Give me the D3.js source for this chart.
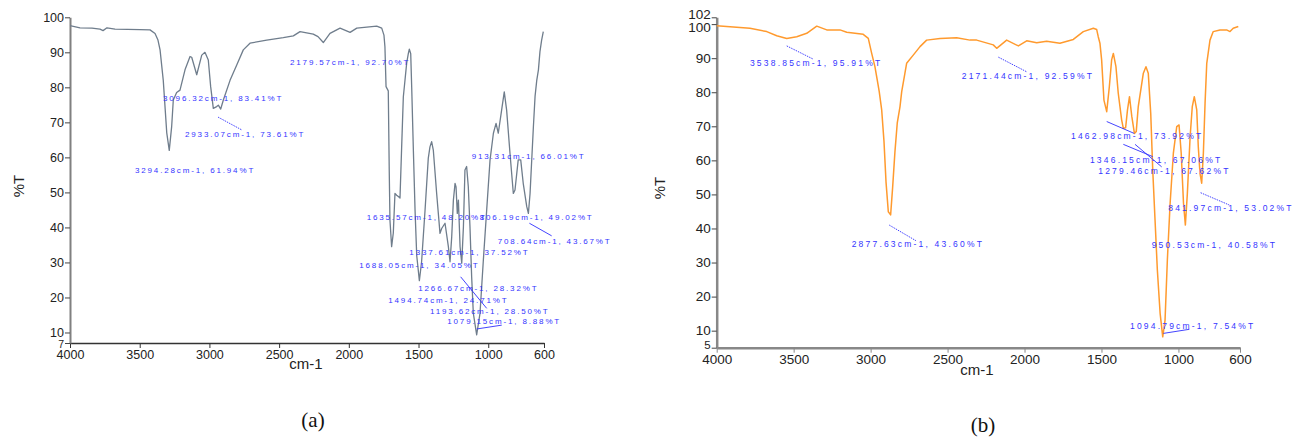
<!DOCTYPE html>
<html><head><meta charset="utf-8">
<script src="https://cdn.jsdelivr.net/npm/d3@7"></script>
<style>
html,body{margin:0;padding:0;background:#fff;}
svg{display:block;font-family:"Liberation Sans",Arial,sans-serif;}
</style></head>
<body><svg id="c" width="1293" height="437"></svg>
<script>
// ---------- data: panel (a) spectrum [wavenumber, %T] ----------
const specA = [
[4000,97.6],[3928,97.0],[3842,96.9],[3785,96.6],[3763,96.2],[3735,97.0],[3677,96.6],[3498,96.5],
[3426,96.4],[3390,95.4],[3369,93.5],[3354,90.7],[3331,82],[3306,67],[3288,62.0],[3271,68.7],
[3259,76.4],[3235,78.5],[3211,79.2],[3175,85],[3139,88.8],[3127,88.6],[3091,83.6],[3055,89.2],
[3032,90.0],[3008,87.8],[2991,80.2],[2972,74.0],[2948,74.5],[2936,74.9],[2919,73.8],[2900,76.4],
[2852,82],[2804,86.4],[2757,90.7],[2709,92.6],[2589,93.5],[2470,94.2],[2398,94.7],[2350,95.9],
[2255,95.2],[2221,94.5],[2183,92.8],[2135,95.4],[2063,96.9],[1991,95.7],[1943,96.9],[1800,97.5],
[1764,96.9],[1748,94.9],[1741,91.6],[1733,80.2],[1717,79.0],[1710,56],[1705,42.1],[1693,34.5],
[1681,38.4],[1669,49.7],[1657,49.2],[1645,48.8],[1633,48.4],[1621,63],[1609,77.3],[1597,82.1],
[1585,86.9],[1573,89.7],[1566,90.9],[1556,89.6],[1549,80],[1537,62],[1525,45],[1513,32],
[1494,24.8],[1478,30.2],[1454,44.5],[1430,59.8],[1418,63],[1406,64.5],[1394,62.1],[1370,49.7],
[1346,38.3],[1334,39.7],[1310,41.2],[1286,34.5],[1274,30.2],[1262,37.3],[1250,47.8],[1238,52.6],
[1231,51.6],[1222,44],[1214,47.8],[1202,34.5],[1190,29.8],[1178,40.2],[1167,56.4],[1155,57.4],
[1143,51.6],[1131,40.2],[1119,26],[1107,15.5],[1083,9.3],[1059,15.5],[1035,30.7],[1011,45],
[987,59.3],[963,66.9],[944,69.7],[928,66.9],[904,73.5],[885,78.7],[868,73.5],[844,61.2],
[820,49.7],[808,50.7],[785,59.3],[767,59.3],[749,52.6],[724,46],[712,44],[700,49.7],
[688,59.3],[676,68.8],[664,77.5],[652,82],[640,85],[629,90.2],[617,93.5],[605,95.9]
];
// ---------- data: panel (b) spectrum ----------
const specB = [
[4000,99.5],[3784,98.8],[3675,97.8],[3610,96.6],[3545,95.8],[3480,96.3],[3415,97.3],[3350,99.4],
[3285,98.3],[3199,98.3],[3155,97.6],[3048,97.0],[3015,95.8],[2993,91.4],[2972,87.5],[2957,83.6],
[2944,80.2],[2928,74.8],[2913,65.5],[2900,53.7],[2885,44.9],[2870,44.0],[2857,52],[2842,62.5],
[2827,70.9],[2809,75.8],[2798,80.2],[2777,85.6],[2766,88.5],[2723,90.9],[2679,93.4],[2636,95.3],
[2549,95.8],[2441,96.0],[2354,95.3],[2311,95.3],[2203,93.9],[2181,92.9],[2116,95.3],[2040,93.6],
[1986,95.1],[1921,94.5],[1856,95.0],[1770,94.4],[1683,95.5],[1618,97.8],[1553,98.8],[1531,98.4],
[1521,96.3],[1510,94.4],[1499,89.5],[1484,77.7],[1466,74.3],[1449,81.6],[1434,89.5],[1423,91.4],
[1406,87.5],[1391,79.7],[1369,71.9],[1358,69.4],[1343,69.6],[1331,74.8],[1318,78.7],[1303,72.9],
[1286,67.9],[1274,68.5],[1261,75.8],[1228,85.6],[1211,87.5],[1196,85.6],[1180,73.8],[1167,57.2],
[1152,42.5],[1137,27.8],[1119,15.1],[1102,8.2],[1087,13.1],[1072,30.7],[1054,47.4],[1033,62.1],
[1011,69.9],[996,70.4],[982,62.1],[967,47.4],[955,41],[942,50.3],[924,67],[910,75.8],
[897,78.7],[881,74.8],[871,64],[860,56.2],[849,53.3],[838,62.1],[827,76.8],[816,88.5],
[795,95.3],[774,97.8],[730,98.3],[687,98.3],[665,97.8],[644,98.8],[611,99.3]
];
// ---------- tick labels ----------
const xTicks = [4000,3500,3000,2500,2000,1500,1000,600];
const yTicksA = [7,10,20,30,40,50,60,70,80,90,100];
const yTicksB = [5,10,20,30,40,50,60,70,80,90,100,102];
// ---------- peak annotations: text, label anchor [w,%T] ----------
const labelsA = [
["3096.32cm-1, 83.41%T",3333,76.8],["2933.07cm-1, 73.61%T",3175,66.7],["3294.28cm-1, 61.94%T",3534,56.4],
["2179.57cm-1, 92.70%T",2422,87.2],["913.31cm-1, 66.01%T",1119,60.2],["1635.57cm-1, 48.20%T",1872,42.9],
["806.19cm-1, 49.02%T",1061,42.9],["708.64cm-1, 43.67%T",932,36.2],["1337.61cm-1, 37.52%T",1566,32.8],
["1688.05cm-1, 34.05%T",1925,29.3],["1266.67cm-1, 28.32%T",1502,22.6],["1494.74cm-1, 24.71%T",1717,19.3],
["1193.62cm-1, 28.50%T",1418,16.1],["1079.15cm-1, 8.88%T",1294,13.3]
];
const leadersA = [[2938,71.5,2766,67.8,1],[705,41.2,545,37.6,0],[1198,25.9,1011,16.9,0],[1083,11,903,12.1,0]];
const labelsB = [
["3538.85cm-1, 95.91%T",3784,88.7],["2171.44cm-1, 92.59%T",2408,84.9],["2877.63cm-1, 43.60%T",3123,35.4],
["1462.98cm-1, 73.92%T",1698,67.2],["1346.15cm-1, 67.06%T",1575,60.1],["1279.46cm-1, 67.62%T",1521,56.9],
["841.97cm-1, 53.02%T",1066,45.9],["950.53cm-1, 40.58%T",1174,35.2],["1094.79cm-1, 7.54%T",1315,11.5]
];
const leadersB = [[3545,93.6,3372,89.7,1],[2170,90.3,1986,86.0,1],[2879,41.0,2705,36.4,1],[1466,71.4,1287,67.9,0],
[1358,64.7,1167,61.1,0],[1282,64.7,1109,58.1,0],[856,50.5,670,46.9,1],[1098,9.2,929,10.4,0]];

const svg = d3.select("#c");

function panel(cfg){
  const x = d3.scaleLinear().domain([4000,600]).range(cfg.xr);
  const y = d3.scaleLinear().domain(cfg.yd).range(cfg.yr);
  const g = svg.append("g");
  const lo = cfg.yd[0], hi = cfg.yd[1];
  // x axis
  const xa = g.append("g").attr("transform",`translate(0,${cfg.yr[0]})`)
    .call(d3.axisBottom(x).tickValues(xTicks).tickSize(5).tickSizeOuter(0).tickFormat(d3.format("d")));
  xa.select(".domain").attr("stroke",cfg.xAxisColor).attr("stroke-width",cfg.xAxisW);
  xa.selectAll(".tick line").attr("stroke",cfg.xAxisColor);
  xa.selectAll("text").attr("font-size",cfg.tickFs).attr("fill","#222").attr("dy","0.62em")
    .attr("font-weight",cfg.tickFw);
  // y axis
  const ya = g.append("g").attr("transform",`translate(${cfg.xr[0]},0)`)
    .call(d3.axisLeft(y).tickValues(cfg.yTicks).tickSize(5).tickSizeOuter(0));
  ya.select(".domain").attr("stroke",cfg.yAxisColor).attr("stroke-width",cfg.yAxisW);
  ya.selectAll(".tick line").attr("stroke","#444");
  ya.selectAll("text").attr("fill","#222").attr("x",-6)
    .attr("font-weight",cfg.tickFw)
    .attr("font-size",d=> d===lo ? cfg.tickFs-2 : cfg.tickFs)
    .attr("dy",d=> d===hi && hi===102 ? "0.1em" : (d===100 && hi===102 ? "0.55em" : (d===lo ? cfg.loDy : "0.32em")));
  // spectrum
  g.append("path").datum(cfg.spec)
    .attr("fill","none").attr("stroke",cfg.color).attr("stroke-width",cfg.lw)
    .attr("stroke-linejoin","round")
    .attr("d",d3.line().x(d=>x(d[0])).y(d=>y(d[1])));
  // leaders
  g.selectAll("line.ld").data(cfg.leaders).enter().append("line")
    .attr("x1",d=>x(d[0])).attr("y1",d=>y(d[1])).attr("x2",d=>x(d[2])).attr("y2",d=>y(d[3]))
    .attr("stroke","#2f2fff").attr("stroke-width",0.9)
    .attr("stroke-dasharray",d=>d[4]?"1.5,1":null);
  // labels
  g.selectAll("text.lb").data(cfg.labels).enter().append("text")
    .attr("x",d=>x(d[1])).attr("y",d=>y(d[2])).attr("dy","0.35em")
    .attr("font-size",cfg.lblFs).attr("letter-spacing",cfg.lblLs)
    .attr("fill","#3434ff").text(d=>d[0]);
  // axis titles
  g.append("text").attr("transform",`translate(${cfg.ytx},${cfg.yty}) rotate(-90)`)
    .attr("text-anchor","middle").attr("dy","0.35em").attr("font-size",15).attr("fill","#222").text("%T");
  g.append("text").attr("x",cfg.cmx).attr("y",cfg.cmy).attr("text-anchor","middle").attr("dy","0.35em")
    .attr("font-size",15).attr("fill","#222").attr("font-weight",cfg.tickFw).text("cm-1");
  g.append("text").attr("x",cfg.capx).attr("y",cfg.capy).attr("text-anchor","middle").attr("dy","0.35em")
    .attr("font-family","'Liberation Serif','Times New Roman',serif").attr("font-size",21).attr("fill","#111")
    .text(cfg.cap);
}

panel({xr:[70,544], yr:[343,17.3], yd:[7,100], yTicks:yTicksA, spec:specA, color:"#6f7d8c", lw:1.3,
  labels:labelsA, leaders:leadersA, lblFs:8, lblLs:1.85, tickFs:12.5, tickFw:"normal", loDy:"0.45em",
  xAxisColor:"#333", xAxisW:1.5, yAxisColor:"#808080", yAxisW:2,
  ytx:19, yty:186, cmx:306, cmy:364, capx:313, capy:420, cap:"(a)"});
panel({xr:[716.7,1240], yr:[347.7,17.3], yd:[5,102], yTicks:yTicksB, spec:specB, color:"#ff9a2e", lw:1.5,
  labels:labelsB, leaders:leadersB, lblFs:8.5, lblLs:2.2, tickFs:13.5, tickFw:"500", loDy:"0.1em",
  xAxisColor:"#888", xAxisW:2.5, yAxisColor:"#888", yAxisW:2.5,
  ytx:660, yty:188, cmx:977, cmy:370, capx:983, capy:425, cap:"(b)"});
</script></body></html>
